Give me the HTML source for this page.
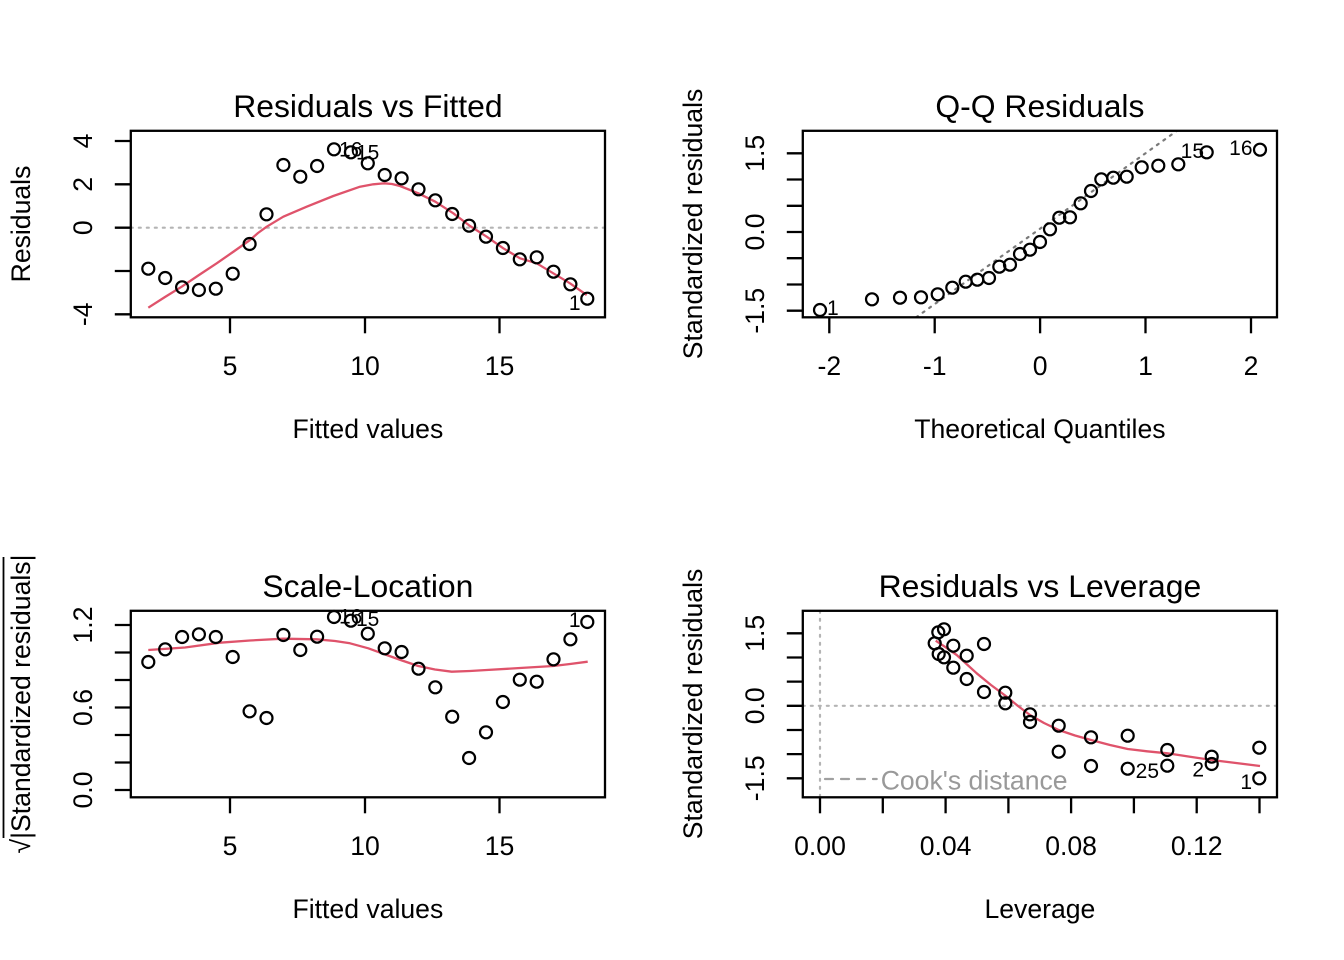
<!DOCTYPE html>
<html>
<head>
<meta charset="utf-8">
<style>
html,body{margin:0;padding:0;background:#fff;}
svg{display:block;}
text{font-family:"Liberation Sans",Arial,sans-serif;fill:#000;}
.t{font-size:31.9px;}
.a{font-size:26.6px;}
.l{font-size:21px;}
.box{fill:none;stroke:#000;stroke-width:2.3;}
.tk{stroke:#000;stroke-width:2.3;}
.pt{fill:none;stroke:#000;stroke-width:2.2;}
.sm{fill:none;stroke:#DF536B;stroke-width:2.3;stroke-linejoin:round;}
.dot{stroke:#B4B4B4;stroke-width:2.2;stroke-dasharray:2 6;stroke-linecap:round;fill:none;}
.qq{stroke:#7a7a7a;stroke-width:2.2;stroke-dasharray:2 6;stroke-linecap:round;fill:none;}
</style>
</head>
<body>
<svg width="1344" height="960" viewBox="0 0 1344 960" xmlns="http://www.w3.org/2000/svg">
<rect x="0" y="0" width="1344" height="960" fill="#fff"/>
<defs>
<clipPath id="c1"><rect x="130.8" y="130.8" width="474.2" height="186.5"/></clipPath>
<clipPath id="c2"><rect x="802.8" y="130.8" width="474.2" height="186.5"/></clipPath>
<clipPath id="c3"><rect x="130.8" y="610.8" width="474.2" height="186.5"/></clipPath>
<clipPath id="c4"><rect x="802.8" y="610.8" width="474.2" height="186.5"/></clipPath>
</defs>

<!-- ================= PANEL 1: Residuals vs Fitted ================= -->
<text class="t" x="367.9" y="117" text-anchor="middle">Residuals vs Fitted</text>
<line class="dot" x1="130.8" y1="227.7" x2="605" y2="227.7"/>
<g clip-path="url(#c1)">
<polyline class="sm" points="148.3,307.7 165,297 181.7,286.7 199,275 216.7,263.3 233,252 250,240 258,233 266.7,226.7 283.3,216.7 306.7,206.7 333.3,196 360,186.7 373.3,184.3 384.3,183.3 392,184 400,186 418.3,193.3 435.3,201.7 453.3,213.3 470,226 486.7,236.7 503.3,248.3 520,258.3 536.7,263.3 553.3,273.3 570,283.3 586.7,295"/>
</g>
<g>
<circle class="pt" cx="148.3" cy="268.7" r="6"/>
<circle class="pt" cx="165.2" cy="278" r="6"/>
<circle class="pt" cx="182.1" cy="287.3" r="6"/>
<circle class="pt" cx="198.9" cy="290" r="6"/>
<circle class="pt" cx="215.8" cy="288.7" r="6"/>
<circle class="pt" cx="232.7" cy="273.7" r="6"/>
<circle class="pt" cx="249.6" cy="244" r="6"/>
<circle class="pt" cx="266.5" cy="214.3" r="6"/>
<circle class="pt" cx="283.4" cy="165" r="6"/>
<circle class="pt" cx="300.3" cy="176.7" r="6"/>
<circle class="pt" cx="317.1" cy="166" r="6"/>
<circle class="pt" cx="334" cy="149.3" r="6"/>
<circle class="pt" cx="350.9" cy="152.3" r="6"/>
<circle class="pt" cx="367.8" cy="163.3" r="6"/>
<circle class="pt" cx="384.7" cy="175" r="6"/>
<circle class="pt" cx="401.6" cy="178.3" r="6"/>
<circle class="pt" cx="418.5" cy="189.3" r="6"/>
<circle class="pt" cx="435.3" cy="200.3" r="6"/>
<circle class="pt" cx="452.2" cy="214" r="6"/>
<circle class="pt" cx="469.1" cy="225.7" r="6"/>
<circle class="pt" cx="486" cy="236.7" r="6"/>
<circle class="pt" cx="502.9" cy="248" r="6"/>
<circle class="pt" cx="519.8" cy="259.3" r="6"/>
<circle class="pt" cx="536.7" cy="257.3" r="6"/>
<circle class="pt" cx="553.5" cy="271.7" r="6"/>
<circle class="pt" cx="570.4" cy="284.3" r="6"/>
<circle class="pt" cx="587.3" cy="298.7" r="6"/>
</g>
<text class="l" x="339" y="156.5">16</text>
<text class="l" x="356" y="159.5">15</text>
<text class="l" x="580.5" y="310" text-anchor="end">1</text>
<rect class="box" x="130.8" y="130.8" width="474.2" height="186.5"/>
<line class="tk" x1="114.8" y1="141" x2="130.8" y2="141"/>
<line class="tk" x1="114.8" y1="184.3" x2="130.8" y2="184.3"/>
<line class="tk" x1="114.8" y1="227.7" x2="130.8" y2="227.7"/>
<line class="tk" x1="114.8" y1="271" x2="130.8" y2="271"/>
<line class="tk" x1="114.8" y1="314.3" x2="130.8" y2="314.3"/>
<text class="a" transform="translate(92,141) rotate(-90)" text-anchor="middle">4</text>
<text class="a" transform="translate(92,184.3) rotate(-90)" text-anchor="middle">2</text>
<text class="a" transform="translate(92,227.7) rotate(-90)" text-anchor="middle">0</text>
<text class="a" transform="translate(92,314.3) rotate(-90)" text-anchor="middle">-4</text>
<line class="tk" x1="230" y1="317.3" x2="230" y2="333.3"/>
<line class="tk" x1="365" y1="317.3" x2="365" y2="333.3"/>
<line class="tk" x1="499.5" y1="317.3" x2="499.5" y2="333.3"/>
<text class="a" x="230" y="375" text-anchor="middle">5</text>
<text class="a" x="365" y="375" text-anchor="middle">10</text>
<text class="a" x="499.5" y="375" text-anchor="middle">15</text>
<text class="a" x="367.9" y="438" text-anchor="middle">Fitted values</text>
<text class="a" transform="translate(30,224) rotate(-90)" text-anchor="middle">Residuals</text>

<!-- ================= PANEL 2: Q-Q Residuals ================= -->
<text class="t" x="1039.9" y="117" text-anchor="middle">Q-Q Residuals</text>
<g clip-path="url(#c2)">
<line class="qq" x1="916.2" y1="317.3" x2="1176.9" y2="130.8"/>
</g>
<g>
<circle class="pt" cx="820" cy="310" r="6"/>
<circle class="pt" cx="872" cy="299.3" r="6"/>
<circle class="pt" cx="900" cy="297.7" r="6"/>
<circle class="pt" cx="921" cy="297.3" r="6"/>
<circle class="pt" cx="937.7" cy="294.3" r="6"/>
<circle class="pt" cx="952.3" cy="287.7" r="6"/>
<circle class="pt" cx="965.7" cy="281.7" r="6"/>
<circle class="pt" cx="977.3" cy="279.7" r="6"/>
<circle class="pt" cx="989" cy="278" r="6"/>
<circle class="pt" cx="999.3" cy="266.7" r="6"/>
<circle class="pt" cx="1010" cy="264.7" r="6"/>
<circle class="pt" cx="1020" cy="254" r="6"/>
<circle class="pt" cx="1030" cy="249.7" r="6"/>
<circle class="pt" cx="1040" cy="242" r="6"/>
<circle class="pt" cx="1050" cy="229.3" r="6"/>
<circle class="pt" cx="1059.3" cy="217.7" r="6"/>
<circle class="pt" cx="1070" cy="217.3" r="6"/>
<circle class="pt" cx="1080.7" cy="203.3" r="6"/>
<circle class="pt" cx="1091" cy="191" r="6"/>
<circle class="pt" cx="1101.3" cy="179.3" r="6"/>
<circle class="pt" cx="1113.3" cy="177.7" r="6"/>
<circle class="pt" cx="1126.7" cy="176.7" r="6"/>
<circle class="pt" cx="1141.7" cy="167.3" r="6"/>
<circle class="pt" cx="1158.3" cy="165.7" r="6"/>
<circle class="pt" cx="1178.3" cy="164.3" r="6"/>
<circle class="pt" cx="1206.7" cy="152.3" r="6"/>
<circle class="pt" cx="1260" cy="149.7" r="6"/>
</g>
<text class="l" x="827" y="315">1</text>
<text class="l" x="1204" y="158" text-anchor="end">15</text>
<text class="l" x="1252.5" y="155" text-anchor="end">16</text>
<rect class="box" x="802.8" y="130.8" width="474.2" height="186.5"/>
<line class="tk" x1="786.8" y1="153.3" x2="802.8" y2="153.3"/>
<line class="tk" x1="786.8" y1="179.5" x2="802.8" y2="179.5"/>
<line class="tk" x1="786.8" y1="205.8" x2="802.8" y2="205.8"/>
<line class="tk" x1="786.8" y1="232" x2="802.8" y2="232"/>
<line class="tk" x1="786.8" y1="258.2" x2="802.8" y2="258.2"/>
<line class="tk" x1="786.8" y1="284.5" x2="802.8" y2="284.5"/>
<line class="tk" x1="786.8" y1="310.7" x2="802.8" y2="310.7"/>
<text class="a" transform="translate(764,153.3) rotate(-90)" text-anchor="middle">1.5</text>
<text class="a" transform="translate(764,232) rotate(-90)" text-anchor="middle">0.0</text>
<text class="a" transform="translate(764,310.7) rotate(-90)" text-anchor="middle">-1.5</text>
<line class="tk" x1="829.3" y1="317.3" x2="829.3" y2="333.3"/>
<line class="tk" x1="934.7" y1="317.3" x2="934.7" y2="333.3"/>
<line class="tk" x1="1040.1" y1="317.3" x2="1040.1" y2="333.3"/>
<line class="tk" x1="1145.5" y1="317.3" x2="1145.5" y2="333.3"/>
<line class="tk" x1="1251" y1="317.3" x2="1251" y2="333.3"/>
<text class="a" x="829.3" y="375" text-anchor="middle">-2</text>
<text class="a" x="934.7" y="375" text-anchor="middle">-1</text>
<text class="a" x="1040.1" y="375" text-anchor="middle">0</text>
<text class="a" x="1145.5" y="375" text-anchor="middle">1</text>
<text class="a" x="1251" y="375" text-anchor="middle">2</text>
<text class="a" x="1039.9" y="438" text-anchor="middle">Theoretical Quantiles</text>
<text class="a" transform="translate(702,224) rotate(-90)" text-anchor="middle">Standardized residuals</text>

<!-- ================= PANEL 3: Scale-Location ================= -->
<text class="t" x="367.9" y="597" text-anchor="middle">Scale-Location</text>
<g clip-path="url(#c3)">
<polyline class="sm" points="148.3,650 185,647.5 220,642.7 250,640.5 283.3,638.7 316.7,639.3 335,641 350,643.3 368.3,648.3 386.7,655 402,660.5 418.3,666 435,669.5 451.7,671.7 470,671 486.7,670 520,668 553.3,666 570,664 587.7,661.7"/>
</g>
<g>
<circle class="pt" cx="148.3" cy="662" r="6"/>
<circle class="pt" cx="165.2" cy="649.3" r="6"/>
<circle class="pt" cx="182.1" cy="637" r="6"/>
<circle class="pt" cx="198.9" cy="634.3" r="6"/>
<circle class="pt" cx="215.8" cy="637" r="6"/>
<circle class="pt" cx="232.7" cy="657" r="6"/>
<circle class="pt" cx="249.6" cy="711.3" r="6"/>
<circle class="pt" cx="266.5" cy="718" r="6"/>
<circle class="pt" cx="283.4" cy="635" r="6"/>
<circle class="pt" cx="300.3" cy="650" r="6"/>
<circle class="pt" cx="317.1" cy="636.7" r="6"/>
<circle class="pt" cx="334" cy="617" r="6"/>
<circle class="pt" cx="350.9" cy="620.7" r="6"/>
<circle class="pt" cx="367.8" cy="633.7" r="6"/>
<circle class="pt" cx="384.7" cy="648.3" r="6"/>
<circle class="pt" cx="401.6" cy="652" r="6"/>
<circle class="pt" cx="418.5" cy="668.7" r="6"/>
<circle class="pt" cx="435.3" cy="687.3" r="6"/>
<circle class="pt" cx="452.2" cy="716.7" r="6"/>
<circle class="pt" cx="469.1" cy="758" r="6"/>
<circle class="pt" cx="486" cy="732.3" r="6"/>
<circle class="pt" cx="502.9" cy="702" r="6"/>
<circle class="pt" cx="519.8" cy="679.7" r="6"/>
<circle class="pt" cx="536.7" cy="681.7" r="6"/>
<circle class="pt" cx="553.5" cy="659.3" r="6"/>
<circle class="pt" cx="570.4" cy="639.3" r="6"/>
<circle class="pt" cx="587.3" cy="622" r="6"/>
</g>
<text class="l" x="339" y="623.5">16</text>
<text class="l" x="356" y="626">15</text>
<text class="l" x="580.5" y="627" text-anchor="end">1</text>
<rect class="box" x="130.8" y="610.8" width="474.2" height="186.5"/>
<line class="tk" x1="114.8" y1="625" x2="130.8" y2="625"/>
<line class="tk" x1="114.8" y1="652.5" x2="130.8" y2="652.5"/>
<line class="tk" x1="114.8" y1="680" x2="130.8" y2="680"/>
<line class="tk" x1="114.8" y1="707.5" x2="130.8" y2="707.5"/>
<line class="tk" x1="114.8" y1="735" x2="130.8" y2="735"/>
<line class="tk" x1="114.8" y1="762.5" x2="130.8" y2="762.5"/>
<line class="tk" x1="114.8" y1="790" x2="130.8" y2="790"/>
<text class="a" transform="translate(92,625) rotate(-90)" text-anchor="middle">1.2</text>
<text class="a" transform="translate(92,707.5) rotate(-90)" text-anchor="middle">0.6</text>
<text class="a" transform="translate(92,790) rotate(-90)" text-anchor="middle">0.0</text>
<line class="tk" x1="230" y1="797.3" x2="230" y2="813.3"/>
<line class="tk" x1="365" y1="797.3" x2="365" y2="813.3"/>
<line class="tk" x1="499.5" y1="797.3" x2="499.5" y2="813.3"/>
<text class="a" x="230" y="855" text-anchor="middle">5</text>
<text class="a" x="365" y="855" text-anchor="middle">10</text>
<text class="a" x="499.5" y="855" text-anchor="middle">15</text>
<text class="a" x="367.9" y="918" text-anchor="middle">Fitted values</text>
<g transform="translate(30,704) rotate(-90)">
<text class="a" x="0" y="0" text-anchor="middle">√|Standardized residuals|</text>
<line x1="-134" y1="-26.5" x2="147" y2="-26.5" stroke="#000" stroke-width="1.8"/>
</g>

<!-- ================= PANEL 4: Residuals vs Leverage ================= -->
<text class="t" x="1039.9" y="597" text-anchor="middle">Residuals vs Leverage</text>
<line class="dot" x1="802.8" y1="705.8" x2="1277" y2="705.8"/>
<line class="dot" x1="820" y1="610.8" x2="820" y2="797.3"/>
<g clip-path="url(#c4)">
<polyline class="sm" points="935.7,640.7 946,647.5 956.7,655 966.5,664 976.7,673.3 991,685 1006.7,696.7 1018,706 1030,715 1044,723 1058.7,730 1075,735.5 1091,740 1110,745 1127.7,749 1147,751.3 1167.3,753.3 1190,756.8 1211.7,760 1236,763 1260,766"/>
</g>
<g>
<circle class="pt" cx="938.3" cy="632.3" r="6"/>
<circle class="pt" cx="944" cy="629.3" r="6"/>
<circle class="pt" cx="934.7" cy="643.3" r="6"/>
<circle class="pt" cx="953.3" cy="645.7" r="6"/>
<circle class="pt" cx="938.7" cy="654" r="6"/>
<circle class="pt" cx="944" cy="657.3" r="6"/>
<circle class="pt" cx="966.7" cy="655.7" r="6"/>
<circle class="pt" cx="984" cy="644" r="6"/>
<circle class="pt" cx="953.3" cy="667.7" r="6"/>
<circle class="pt" cx="966.7" cy="679" r="6"/>
<circle class="pt" cx="984" cy="692" r="6"/>
<circle class="pt" cx="1005.3" cy="692.7" r="6"/>
<circle class="pt" cx="1005.3" cy="703.3" r="6"/>
<circle class="pt" cx="1030" cy="714.3" r="6"/>
<circle class="pt" cx="1030" cy="722" r="6"/>
<circle class="pt" cx="1058.7" cy="725.7" r="6"/>
<circle class="pt" cx="1058.7" cy="751.7" r="6"/>
<circle class="pt" cx="1091" cy="737.3" r="6"/>
<circle class="pt" cx="1091" cy="766" r="6"/>
<circle class="pt" cx="1127.7" cy="735.7" r="6"/>
<circle class="pt" cx="1127.7" cy="768.7" r="6"/>
<circle class="pt" cx="1167.3" cy="750" r="6"/>
<circle class="pt" cx="1167.3" cy="765.7" r="6"/>
<circle class="pt" cx="1211.7" cy="756.7" r="6"/>
<circle class="pt" cx="1211.7" cy="764" r="6"/>
<circle class="pt" cx="1259.3" cy="747.7" r="6"/>
<circle class="pt" cx="1259.3" cy="778.3" r="6"/>
</g>
<text class="l" x="1159" y="778" text-anchor="end">25</text>
<text class="l" x="1204" y="776.5" text-anchor="end">2</text>
<text class="l" x="1252" y="789" text-anchor="end">1</text>
<line x1="825" y1="779" x2="876.7" y2="779" stroke="#A0A0A0" stroke-width="2.2" stroke-dasharray="8 8" stroke-linecap="round"/>
<text class="a" x="880.7" y="789.3" style="fill:#999999">Cook's distance</text>
<rect class="box" x="802.8" y="610.8" width="474.2" height="186.5"/>
<line class="tk" x1="786.8" y1="633.3" x2="802.8" y2="633.3"/>
<line class="tk" x1="786.8" y1="657.5" x2="802.8" y2="657.5"/>
<line class="tk" x1="786.8" y1="681.6" x2="802.8" y2="681.6"/>
<line class="tk" x1="786.8" y1="705.8" x2="802.8" y2="705.8"/>
<line class="tk" x1="786.8" y1="730" x2="802.8" y2="730"/>
<line class="tk" x1="786.8" y1="754.1" x2="802.8" y2="754.1"/>
<line class="tk" x1="786.8" y1="778.3" x2="802.8" y2="778.3"/>
<text class="a" transform="translate(764,633.3) rotate(-90)" text-anchor="middle">1.5</text>
<text class="a" transform="translate(764,705.8) rotate(-90)" text-anchor="middle">0.0</text>
<text class="a" transform="translate(764,778.3) rotate(-90)" text-anchor="middle">-1.5</text>
<line class="tk" x1="820" y1="797.3" x2="820" y2="813.3"/>
<line class="tk" x1="882.8" y1="797.3" x2="882.8" y2="813.3"/>
<line class="tk" x1="945.6" y1="797.3" x2="945.6" y2="813.3"/>
<line class="tk" x1="1008.4" y1="797.3" x2="1008.4" y2="813.3"/>
<line class="tk" x1="1071.1" y1="797.3" x2="1071.1" y2="813.3"/>
<line class="tk" x1="1133.9" y1="797.3" x2="1133.9" y2="813.3"/>
<line class="tk" x1="1196.7" y1="797.3" x2="1196.7" y2="813.3"/>
<line class="tk" x1="1259.5" y1="797.3" x2="1259.5" y2="813.3"/>
<text class="a" x="820" y="855" text-anchor="middle">0.00</text>
<text class="a" x="945.6" y="855" text-anchor="middle">0.04</text>
<text class="a" x="1071.1" y="855" text-anchor="middle">0.08</text>
<text class="a" x="1196.7" y="855" text-anchor="middle">0.12</text>
<text class="a" x="1039.9" y="918" text-anchor="middle">Leverage</text>
<text class="a" transform="translate(702,704) rotate(-90)" text-anchor="middle">Standardized residuals</text>
</svg>
</body>
</html>
